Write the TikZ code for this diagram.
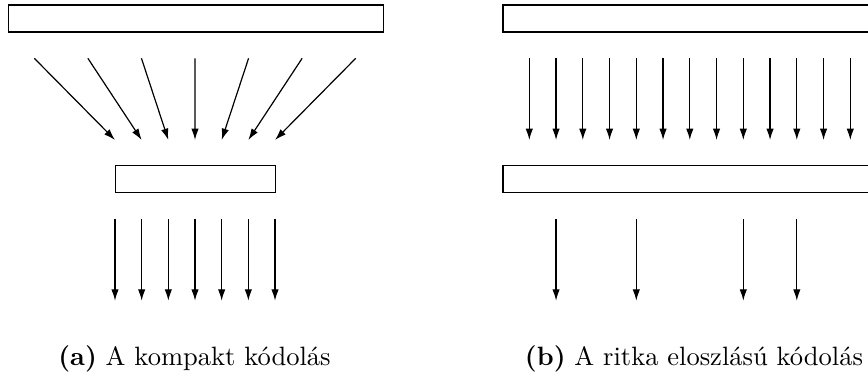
\documentclass[tikz,border=0pt]{standalone}
\usetikzlibrary{arrows.meta}
\begin{document}
\begin{tikzpicture}[x=0.377pt,y=-0.377pt,
  layer/.style={draw=black,line width=0.45pt,rectangle,inner sep=0pt,anchor=north west},
  flow/.style={line width=0.45pt,-{Latex[length=4.3pt,width=2.8pt]}},
  caplabel/.style={font=\fontsize{10pt}{12pt}\selectfont,anchor=base,inner sep=0pt}]
\useasboundingbox (0,0) rectangle (868,374);
\begin{scope}
\clip (0,0) rectangle (868,374);
% (a) compact coding
\node[layer,minimum width=375.5*0.377pt,minimum height=27*0.377pt] (inA) at (7.5,4.5) {};
\node[layer,minimum width=160.6*0.377pt,minimum height=27.3*0.377pt] (codeA) at (114.7,165) {};
\foreach \k in {0,...,6}{
  \pgfmathsetmacro{\xs}{34.3+53.57*\k}
  \pgfmathsetmacro{\xe}{115+26.67*\k}
  \coordinate (fs\k) at (\xs,58.3);
  \coordinate (fe\k) at (\xe,140);
  \coordinate (os\k) at (\xe,219);
  \coordinate (oe\k) at (\xe,300.7);
  \draw[flow] (fs\k) -- (fe\k);
  \draw[flow] (os\k) -- (oe\k);
}
% (b) sparse distributed coding
\node[layer,minimum width=375.5*0.377pt,minimum height=27*0.377pt] (inB) at (502.3,4.5) {};
\node[layer,minimum width=375.5*0.377pt,minimum height=27.3*0.377pt] (codeB) at (502.3,165) {};
\foreach \k in {0,...,12}{
  \pgfmathsetmacro{\xb}{529.3+26.75*\k}
  \coordinate (gs\k) at (\xb,58.3);
  \coordinate (ge\k) at (\xb,140);
  \draw[flow] (gs\k) -- (ge\k);
}
\foreach \k in {1,4,8,10}{
  \pgfmathsetmacro{\xb}{529.3+26.75*\k}
  \coordinate (hs\k) at (\xb,219);
  \coordinate (he\k) at (\xb,300.7);
  \draw[flow] (hs\k) -- (he\k);
}
\end{scope}
\node[caplabel] (capA) at (194.5,365) {\textbf{(a)} A kompakt kódolás};
\node[caplabel] (capB) at (694,365) {\textbf{(b)} A ritka eloszlású kódolás};
\end{tikzpicture}
\end{document}
